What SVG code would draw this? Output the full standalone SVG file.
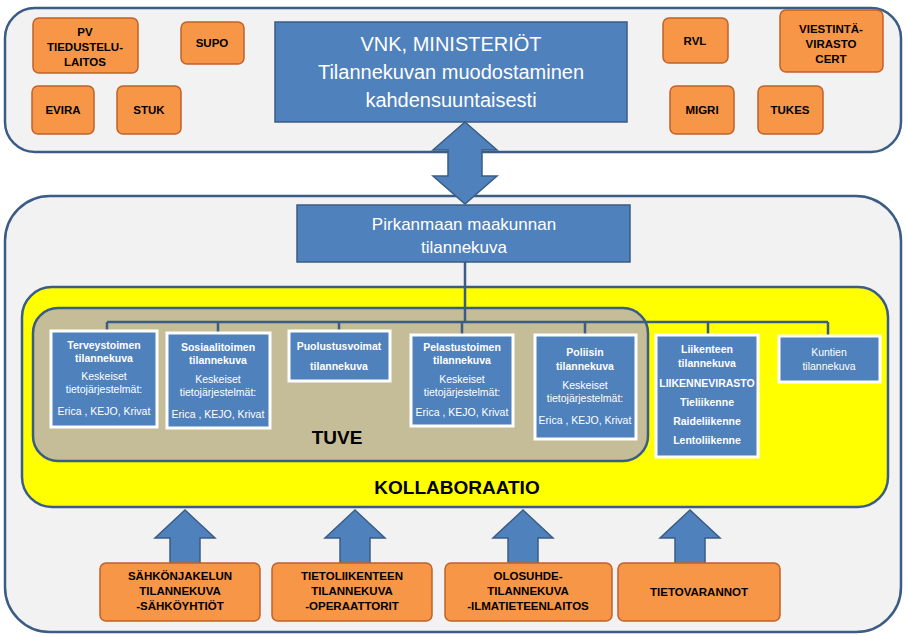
<svg xmlns="http://www.w3.org/2000/svg" width="906" height="637" viewBox="0 0 906 637">
<style>
.panel{fill:#F2F2F2;stroke:#3B5C85;stroke-width:2.5}
.or{fill:#F79646;stroke:#C0622B;stroke-width:1.5}
.ot{font-family:"Liberation Sans",Arial,sans-serif;font-weight:bold;font-size:11.5px;fill:#000;text-anchor:middle}
.bl{fill:#4F81BD;stroke:#3B5C85;stroke-width:1.5}
.sb{fill:#4F81BD;stroke:#fff;stroke-width:3}
.bt{font-family:"Liberation Sans",Arial,sans-serif;fill:#fff;text-anchor:middle}
.sbt{font-family:"Liberation Sans",Arial,sans-serif;fill:#fff;text-anchor:middle;font-size:10.5px;font-weight:bold}
.snt{font-family:"Liberation Sans",Arial,sans-serif;fill:#fff;text-anchor:middle;font-size:10.5px}
.ln{fill:none;stroke:#3B5C85;stroke-width:2.5}
.ar{fill:#4F81BD;stroke:#3B5C85;stroke-width:1.5}
</style>
<g id="top-panel"><rect class="panel" x="5" y="8" width="896" height="144" rx="30"/></g>
<g id="mid-panel"><rect class="panel" x="5" y="196" width="896" height="436" rx="45"/></g>
<g id="pv"><rect class="or" x="33" y="18" width="105" height="55" rx="6"/><text class="ot" x="85" y="36">PV</text><text class="ot" x="85" y="51">TIEDUSTELU-</text><text class="ot" x="85" y="66">LAITOS</text></g>
<g id="supo"><rect class="or" x="181" y="22" width="63" height="42" rx="6"/><text class="ot" x="212" y="47">SUPO</text></g>
<g id="evira"><rect class="or" x="32" y="86" width="62" height="48" rx="6"/><text class="ot" x="63" y="114">EVIRA</text></g>
<g id="stuk"><rect class="or" x="117" y="86" width="64" height="48" rx="6"/><text class="ot" x="149" y="114">STUK</text></g>
<g id="rvl"><rect class="or" x="663" y="18" width="65" height="45" rx="6"/><text class="ot" x="695" y="45">RVL</text></g>
<g id="viestinta"><rect class="or" x="780" y="10" width="103" height="62" rx="6"/><text class="ot" x="831" y="33">VIESTINTÄ-</text><text class="ot" x="831" y="48">VIRASTO</text><text class="ot" x="831" y="63">CERT</text></g>
<g id="migri"><rect class="or" x="670" y="86" width="64" height="48" rx="6"/><text class="ot" x="702" y="114">MIGRI</text></g>
<g id="tukes"><rect class="or" x="758" y="86" width="65" height="48" rx="6"/><text class="ot" x="790" y="114">TUKES</text></g>
<g id="vnk"><rect class="bl" x="275" y="22" width="352" height="100"/><text class="bt" x="451" y="51" font-size="20">VNK, MINISTERIÖT</text><text class="bt" x="451" y="79" font-size="20">Tilannekuvan muodostaminen</text><text class="bt" x="451" y="107" font-size="20">kahdensuuntaisesti</text></g>
<g id="pirkanmaa"><rect class="bl" x="297" y="205" width="333" height="57"/><text class="bt" x="464" y="230" font-size="17">Pirkanmaan maakunnan</text><text class="bt" x="464" y="253" font-size="17">tilannekuva</text></g>
<g id="kollaboraatio"><rect x="22" y="287" width="866" height="220" rx="30" fill="#FFFF00" stroke="#3B5C85" stroke-width="2.5"/><text x="457" y="494" font-family="Liberation Sans,Arial,sans-serif" font-weight="bold" font-size="19" text-anchor="middle">KOLLABORAATIO</text></g>
<g id="tuve"><rect x="33" y="308" width="615" height="153" rx="25" fill="#C4BD97" stroke="#3B5C85" stroke-width="2.5"/><text x="337" y="444" font-family="Liberation Sans,Arial,sans-serif" font-weight="bold" font-size="19" text-anchor="middle">TUVE</text></g>
<g id="connectors">
<path class="ar" d="M465,122 L497,150 L482,150 L482,176 L497,176 L465,204 L433,176 L448,176 L448,150 L433,150 Z"/>
<path class="ln" d="M465,262 V322 M107,322 H828 M107,322 V330 M218,322 V332 M339,322 V330 M462,322 V334 M585,322 V334 M708,322 V334 M828,322 V335"/>
<path class="ar" d="M185,510 L215,538 L200,538 L200,565 L170,565 L170,538 L155,538 Z"/>
<path class="ar" d="M355,510 L385,538 L370,538 L370,565 L340,565 L340,538 L325,538 Z"/>
<path class="ar" d="M523,510 L553,538 L538,538 L538,565 L508,565 L508,538 L493,538 Z"/>
<path class="ar" d="M690,510 L720,538 L705,538 L705,565 L675,565 L675,538 L660,538 Z"/>
</g>
<g id="terveys"><rect class="sb" x="51" y="331" width="106" height="96"/><text class="sbt" x="104" y="349">Terveystoimen</text><text class="sbt" x="104" y="362">tilannekuva</text><text class="snt" x="104" y="380">Keskeiset</text><text class="snt" x="104" y="393">tietojärjestelmät:</text><text class="snt" x="104" y="415">Erica , KEJO, Krivat</text></g>
<g id="sosiaali"><rect class="sb" x="167" y="333" width="103" height="95"/><text class="sbt" x="218" y="351">Sosiaalitoimen</text><text class="sbt" x="218" y="364">tilannekuva</text><text class="snt" x="218" y="383">Keskeiset</text><text class="snt" x="218" y="396">tietojärjestelmät:</text><text class="snt" x="218" y="418">Erica , KEJO, Krivat</text></g>
<g id="puolustus"><rect class="sb" x="289" y="331" width="101" height="50"/><text class="sbt" x="339" y="350">Puolustusvoimat</text><text class="sbt" x="339" y="370">tilannekuva</text></g>
<g id="pelastus"><rect class="sb" x="411" y="335" width="102" height="91"/><text class="sbt" x="462" y="351">Pelastustoimen</text><text class="sbt" x="462" y="364">tilannekuva</text><text class="snt" x="462" y="383">Keskeiset</text><text class="snt" x="462" y="396">tietojärjestelmät:</text><text class="snt" x="462" y="416">Erica , KEJO, Krivat</text></g>
<g id="poliisi"><rect class="sb" x="535" y="335" width="101" height="104"/><text class="sbt" x="585" y="356">Poliisin</text><text class="sbt" x="585" y="370">tilannekuva</text><text class="snt" x="585" y="389">Keskeiset</text><text class="snt" x="585" y="402">tietojärjestelmät:</text><text class="snt" x="585" y="424">Erica , KEJO, Krivat</text></g>
<g id="liikenne"><rect class="sb" x="656" y="335" width="102" height="122"/><text class="sbt" x="707" y="353">Liikenteen</text><text class="sbt" x="707" y="367">tilannekuva</text><text class="sbt" x="707" y="387">LIIKENNEVIRASTO</text><text class="sbt" x="707" y="406">Tieliikenne</text><text class="sbt" x="707" y="425">Raideliikenne</text><text class="sbt" x="707" y="444">Lentoliikenne</text></g>
<g id="kuntien"><rect class="sb" x="779" y="336" width="101" height="46"/><text class="snt" x="829" y="356">Kuntien</text><text class="snt" x="829" y="370">tilannekuva</text></g>
<g id="sahko"><rect class="or" x="100" y="563" width="160" height="58" rx="6"/><text class="ot" x="180" y="580">SÄHKÖNJAKELUN</text><text class="ot" x="180" y="595">TILANNEKUVA</text><text class="ot" x="180" y="610">-SÄHKÖYHTIÖT</text></g>
<g id="tieto"><rect class="or" x="272" y="563" width="160" height="58" rx="6"/><text class="ot" x="352" y="580">TIETOLIIKENTEEN</text><text class="ot" x="352" y="595">TILANNEKUVA</text><text class="ot" x="352" y="610">-OPERAATTORIT</text></g>
<g id="olosuhde"><rect class="or" x="445" y="563" width="167" height="58" rx="6"/><text class="ot" x="528" y="580">OLOSUHDE-</text><text class="ot" x="528" y="595">TILANNEKUVA</text><text class="ot" x="528" y="610">-ILMATIETEENLAITOS</text></g>
<g id="tietovarannot"><rect class="or" x="618" y="563" width="162" height="58" rx="6"/><text class="ot" x="699" y="596">TIETOVARANNOT</text></g>
</svg>
